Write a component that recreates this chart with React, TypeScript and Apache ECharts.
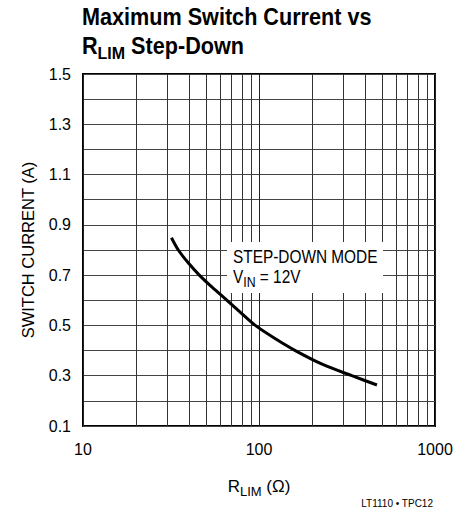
import React, { useEffect, useRef } from "react";
import * as echarts from "echarts";

// R_LIM (ohms) vs switch current (A)
const rlim = [31.8, 34.8, 39.5, 45.8, 54.5, 65.8, 79, 95.3, 122, 160.8, 230, 337, 468];
const current = [0.849, 0.8, 0.75, 0.7, 0.65, 0.6, 0.55, 0.5, 0.45, 0.4, 0.345, 0.3, 0.263];
// minor log gridlines
const minorX = [20, 30, 40, 50, 60, 70, 80, 90, 200, 300, 400, 500, 600, 700, 800, 900];
const yTickLabels = ["0.1", "0.3", "0.5", "0.7", "0.9", "1.1", "1.3", "1.5"];

const REG = '"Liberation Sans", Arial, Helvetica, sans-serif';

export default function App() {
  const ref = useRef<HTMLDivElement>(null);
  useEffect(() => {
    if (!ref.current) return;
    const chart = echarts.init(ref.current, null, { renderer: "svg" });
    const option: any = {
      animation: false,
      backgroundColor: "#fff",
      grid: {
        left: 83,
        right: 36,
        top: 74,
        bottom: 82,
        show: true,
        borderColor: "#000",
        borderWidth: 2,
        backgroundColor: "transparent",
      },
      xAxis: {
        type: "log",
        logBase: 10,
        min: 10,
        max: 1000,
        axisLine: { show: false },
        axisTick: { show: false },
        splitLine: { show: true, lineStyle: { color: "#222", width: 1 } },
        axisLabel: {
          fontFamily: REG,
          fontSize: 16,
          color: "#000",
          margin: 15,
          formatter: (v: number) => String(Math.round(v)),
        },
        name: "{r|R}{s|LIM}{r| (Ω)}",
        nameLocation: "middle",
        nameGap: 52,
        nameTextStyle: {
          rich: {
            r: { fontFamily: REG, fontSize: 17, color: "#000", verticalAlign: "top", lineHeight: 17 },
            s: { fontFamily: REG, fontSize: 13, color: "#000", verticalAlign: "top", lineHeight: 13, padding: [7, 0, 0, 0] },
          },
        },
      },
      yAxis: {
        type: "value",
        min: 0.1,
        max: 1.5,
        interval: 0.1,
        axisLine: { show: false },
        axisTick: { show: false },
        splitLine: { show: true, lineStyle: { color: "#444", width: 1 } },
        axisLabel: {
          fontFamily: REG,
          fontSize: 16,
          color: "#000",
          margin: 12,
          formatter: (v: number) => {
            const s = (Math.round(v * 10) / 10).toFixed(1);
            return yTickLabels.indexOf(s) >= 0 ? s : "";
          },
        },
        name: "SWITCH CURRENT (A)",
        nameLocation: "middle",
        nameGap: 47,
        nameTextStyle: { fontFamily: REG, fontSize: 16.5, color: "#000" },
      },
      series: [
        {
          type: "line",
          data: rlim.map((x, i) => [x, current[i]]),
          smooth: 0.25,
          showSymbol: false,
          lineStyle: { color: "#000", width: 3 },
          z: 5,
          markLine: {
            silent: true,
            symbol: ["none", "none"],
            label: { show: false },
            lineStyle: { color: "#333", width: 1, type: "solid" },
            data: minorX.map((v) => ({ xAxis: v })),
            z: 1,
          },
        },
      ],
      graphic: [
        {
          type: "rect",
          z: 50,
          shape: { x: 227, y: 242, width: 156, height: 51 },
          style: { fill: "#fff" },
        },
        {
          type: "text",
          z: 51,
          x: 233,
          y: 257,
          scaleX: 0.88,
          style: {
            text: "STEP-DOWN MODE",
            fontFamily: REG,
            fontSize: 17.5,
            fill: "#000",
            verticalAlign: "middle",
          },
        },
        {
          type: "text",
          z: 51,
          x: 233,
          y: 268,
          scaleX: 0.88,
          style: {
            text: "{r|V}{s|IN}{r| = 12V}",
            rich: {
              r: { fontFamily: REG, fontSize: 17.5, fill: "#000", verticalAlign: "top", lineHeight: 17.5 },
              s: { fontFamily: REG, fontSize: 14, fill: "#000", verticalAlign: "top", lineHeight: 14, padding: [7, 0, 0, 0] },
            },
          },
        },
        {
          type: "text",
          x: 82,
          y: 17,
          scaleX: 0.94,
          style: {
            text: "Maximum Switch Current vs",
            fontFamily: REG,
            fontWeight: "bold",
            fontSize: 23,
            fill: "#000",
            verticalAlign: "middle",
          },
        },
        {
          type: "text",
          x: 82,
          y: 35,
          scaleX: 0.94,
          style: {
            text: "{r|R}{s|LIM}{r| Step-Down}",
            rich: {
              r: { fontFamily: REG, fontWeight: "bold", fontSize: 23, fill: "#000", verticalAlign: "top", lineHeight: 23 },
              s: { fontFamily: REG, fontWeight: "bold", fontSize: 17, fill: "#000", verticalAlign: "top", lineHeight: 17, padding: [9, 0, 0, 0] },
            },
          },
        },
        {
          type: "text",
          x: 433,
          y: 503,
          style: {
            text: "LT1110 • TPC12",
            fontFamily: REG,
            fontSize: 10,
            fill: "#000",
            align: "right",
            verticalAlign: "middle",
          },
        },
      ],
    };
    chart.setOption(option);
    return () => chart.dispose();
  }, []);
  return (
    <div
      ref={ref}
      style={{ position: "absolute", left: 0, top: 0, width: 471, height: 508 }}
    />
  );
}
